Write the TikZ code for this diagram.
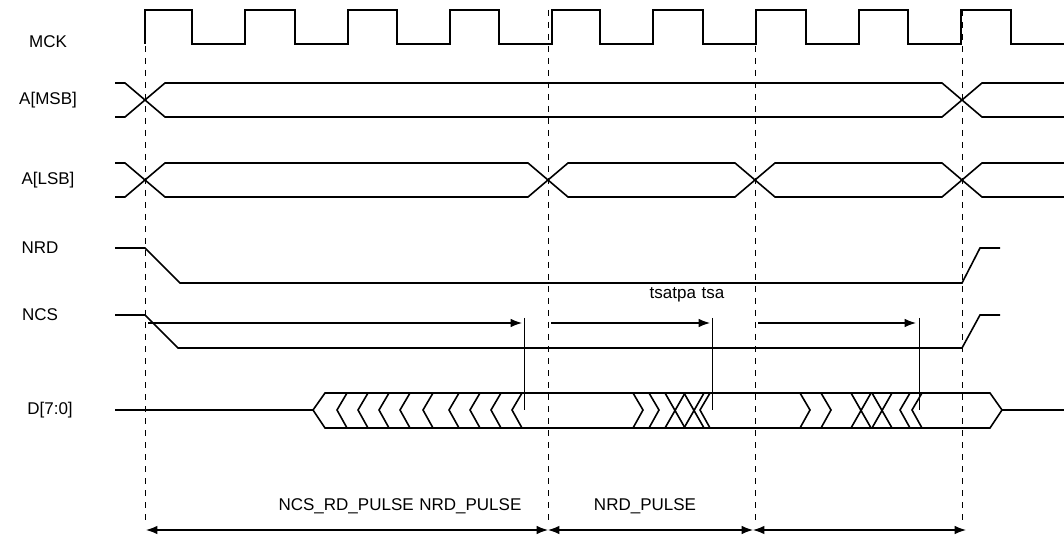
\documentclass[tikz,border=0pt]{standalone}
\usepackage{fontspec}
\setmainfont{Liberation Sans}
\usetikzlibrary{arrows.meta}
\tikzset{>=Latex}
\tikzset{%
    sig/.style={thick},
    guide/.style={dashed, thin},
    lbl/.style={font=\fontsize{8.5}{10}\selectfont, inner sep=1pt},
    dim/.style={<->, semithick}
}
\begin{document}
\begin{tikzpicture}[x=0.5pt,y=-0.5pt]
\useasboundingbox (0,0) rectangle (1064,539);
% labels
\node[lbl] (mck) at (48,42) {MCK};
\node[lbl] (amsb) at (48,100) {A[MSB]};
\node[lbl] (alsb) at (48,180) {A[LSB]};
\node[lbl] (nrd) at (40,248) {NRD};
\node[lbl] (ncs) at (40,315) {NCS};
\node[lbl] (data) at (50,410) {D[7:0]};
% clock
\draw[sig] (145,44) -- (145,10)
  \foreach \x in {145,248,350,452,553,656,759,861,964} {
    -- (\x,10) -- (\x+47,10) -- (\x+47,44) -- (\x+100,44) -- (\x+100,10)} ;
\fill[white] (1050,0) rectangle (1064,50);
\draw[sig] (1045,44) -- (1064,44);
% guides
\foreach \x in {145,548,755,962}
  \draw[guide] (\x,10) -- (\x,520);
% A[MSB]
\draw[sig] (115,83) -- (125,83) -- (165,117) -- (942,117) -- (982,83) -- (1064,83);
\draw[sig] (115,117) -- (125,117) -- (165,83) -- (942,83) -- (982,117) -- (1064,117);
% A[LSB]
\draw[sig] (115,163) -- (125,163) -- (165,197) -- (528,197) -- (568,163) -- (735,163)
  -- (775,197) -- (942,197) -- (982,163) -- (1064,163);
\draw[sig] (115,197) -- (125,197) -- (165,163) -- (528,163) -- (568,197) -- (735,197)
  -- (775,163) -- (942,163) -- (982,197) -- (1064,197);
% NRD, NCS
\draw[sig] (115,248) -- (145,248) -- (180,283) -- (962,283) -- (980,248) -- (1000,248);
\draw[sig] (115,315) -- (145,315) -- (178,348) -- (962,348) -- (980,315) -- (1000,315);
% D[7:0]
\draw[sig] (115,410) -- (313,410);
\draw[sig] (313,410) -- (325,393) -- (990,393) -- (1002,410) -- (990,428) -- (325,428) -- cycle;
\draw[sig] (1002,410) -- (1064,410);
\foreach \x in {337,358,379,400,423,449,470,491,512,700,900,912}
  \draw[sig] (\x+10,393) -- (\x,410) -- (\x+10,428);
\foreach \x in {633,649,800,821}
  \draw[sig] (\x,393) -- (\x+10,410) -- (\x,428);
\foreach \x in {665,684,851,872}
  \draw[sig] (\x,393) -- (\x+20,428) (\x,428) -- (\x+20,393);
% setup arrows
\coordinate (s1a) at (148,323); \coordinate (s1b) at (522,323);
\coordinate (s2a) at (551,323); \coordinate (s2b) at (710,323);
\coordinate (s3a) at (758,323); \coordinate (s3b) at (916,323);
\draw[thin] (524,318) -- (524,410) (712,318) -- (712,410) (919,318) -- (919,410);
\draw[->, semithick] (s1a) -- (s1b);
\draw[->, semithick] (s2a) -- (s2b);
\draw[->, semithick] (s3a) -- (s3b);
\node[lbl] (tsa) at (687,295) {tsatpa\,\,tsa};
% pulse widths
\coordinate (p0) at (146,530); \coordinate (p1) at (548,530);
\coordinate (p2) at (753,530); \coordinate (p3) at (962,530);
\draw[dim] (p0) -- (p1);
\draw[dim] (p1) -- (p2);
\draw[dim] (p2) -- ([xshift=2pt]p3);
\node[lbl] (ncspulse) at (400,506) {NCS\_RD\_PULSE\,\,NRD\_PULSE};
\node[lbl] (nrdpulse) at (645,506) {NRD\_PULSE};
\end{tikzpicture}
\end{document}
